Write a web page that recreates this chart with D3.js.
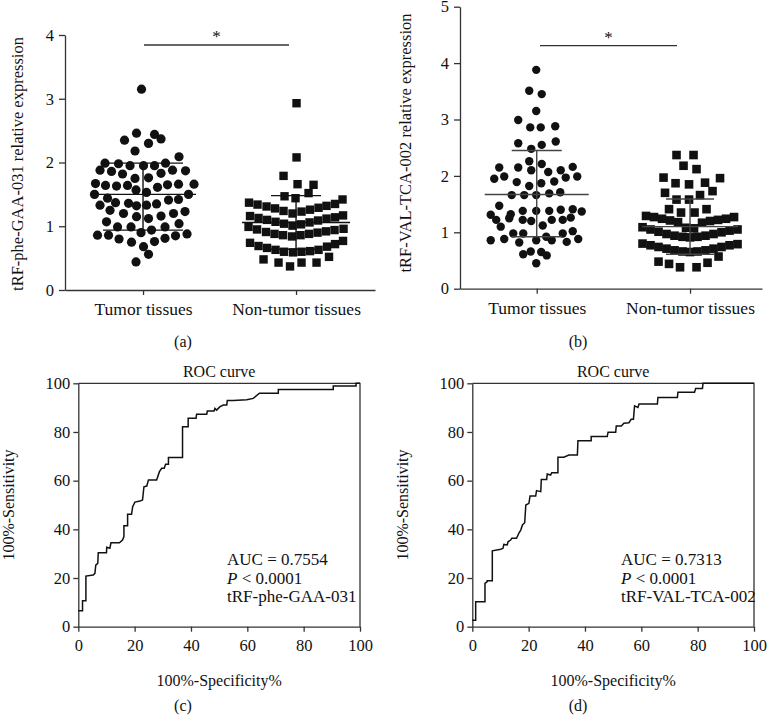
<!DOCTYPE html>
<html>
<head>
<meta charset="utf-8">
<script src="https://cdn.jsdelivr.net/npm/d3@7"></script>
<style>
  html, body { margin: 0; padding: 0; background: #fff; }
  svg { display: block; }
  text { font-family: "Liberation Serif", "Times New Roman", serif; fill: #111; }
</style>
</head>
<body>
<svg id="chart" width="768" height="722"></svg>
<script>
// ---------------- DATA ----------------
const categories = ["Tumor tissues", "Non-tumor tissues"];

// Panel (a): tRF-phe-GAA-031 ; points are [jitter offset (-1..1), value]
const tumorA = [
  [-0.03,3.15],[-0.37,2.35],[-0.13,2.46],[0.23,2.44],[0.36,2.37],[0.11,2.30],[-0.16,2.18],[0.72,2.09],
  [-0.76,1.99],[-0.49,1.98],[-0.26,1.95],[0.01,1.95],[0.23,1.95],[0.45,1.99],
  [-0.86,1.88],[-0.63,1.86],[-0.41,1.82],[-0.16,1.75],[0.11,1.76],[0.36,1.83],[0.59,1.88],[0.85,1.87],
  [-0.95,1.67],[-0.75,1.64],[-0.53,1.63],[-0.31,1.64],[-0.14,1.57],[0.29,1.61],[0.49,1.65],[0.71,1.66],[1.02,1.66],
  [-0.97,1.50],[-0.71,1.44],[0.07,1.53],[0.91,1.50],
  [-0.86,1.33],[-0.55,1.37],[-0.29,1.36],[-0.13,1.32],[0.07,1.33],[0.27,1.35],[0.51,1.41],[0.71,1.42],
  [-0.66,1.25],[-0.39,1.20],[-0.13,1.15],[0.11,1.12],[0.36,1.16],[0.61,1.20],[0.84,1.23],
  [-0.73,1.07],[-0.51,0.99],[-0.24,0.99],[-0.04,0.90],[0.17,0.94],[0.44,0.99],[0.72,1.04],
  [-0.91,0.86],[-0.69,0.86],[-0.48,0.80],[-0.23,0.75],[0.23,0.76],[0.44,0.81],[0.65,0.85],[0.88,0.88],
  [0.01,0.68],[0.11,0.56],[-0.14,0.44]
];
const nonTumorA = [
  [0.01,2.93],[0.01,2.08],[-0.25,1.79],[0.03,1.66],[0.35,1.65],[-0.23,1.47],[-0.01,1.44],[0.25,1.52],
  [-0.94,1.37],[-0.77,1.34],[-0.59,1.31],[-0.42,1.28],[-0.25,1.24],[-0.07,1.20],[0.11,1.23],[0.28,1.26],[0.45,1.29],[0.61,1.32],[0.78,1.35],[0.93,1.42],
  [-0.92,1.16],[-0.75,1.13],[-0.58,1.10],[-0.41,1.07],[-0.24,1.04],[-0.07,1.01],[0.10,1.03],[0.27,1.06],[0.44,1.09],[0.61,1.12],[0.78,1.14],[0.94,1.17],
  [-0.95,0.99],[-0.78,0.95],[-0.60,0.91],[-0.43,0.88],[-0.26,0.86],[-0.08,0.84],[0.09,0.86],[0.26,0.88],[0.43,0.90],[0.60,0.92],[0.77,0.94],[0.95,0.96],
  [-0.92,0.74],[-0.75,0.69],[-0.58,0.66],[-0.41,0.63],[-0.24,0.60],[-0.06,0.59],[0.11,0.60],[0.28,0.61],[0.45,0.63],[0.62,0.68],[0.78,0.72],[0.94,0.77],
  [-0.65,0.48],[-0.35,0.43],[-0.12,0.37],[0.11,0.43],[0.41,0.43],[0.66,0.52]
];
const meanA   = [1.50, 1.06];
const sdLowA  = [0.94, 0.64];
const sdHighA = [1.99, 1.48];

// Panel (b): tRF-VAL-TCA-002
const tumorB = [
  [-0.01,3.88],[-0.15,3.51],[0.10,3.45],[-0.01,3.15],[-0.37,2.99],[-0.13,2.86],[0.08,2.86],[0.37,2.88],
  [-0.37,2.58],[-0.11,2.48],[0.10,2.55],[0.38,2.61],[-0.15,2.26],[0.10,2.21],
  [-0.75,2.15],[-0.37,2.15],[0.48,2.10],[0.72,2.16],[-0.85,1.95],[-0.65,1.99],[-0.11,2.10],[0.23,2.07],[0.58,1.97],[0.81,1.99],
  [-0.40,1.89],[-0.15,1.82],[0.09,1.87],[0.35,1.90],[-0.50,1.66],[-0.25,1.66],[-0.01,1.66],[0.25,1.69],[0.47,1.71],
  [-0.75,1.47],[-0.92,1.31],[-0.81,1.22],[-0.52,1.32],[-0.55,1.25],[-0.28,1.38],[-0.28,1.22],[-0.01,1.38],[-0.11,1.20],
  [0.25,1.38],[0.30,1.22],[0.48,1.40],[0.52,1.22],[0.72,1.41],[0.68,1.26],[0.90,1.37],
  [-0.72,1.10],[0.12,1.12],
  [-0.92,0.86],[-0.65,0.88],[-0.47,0.98],[-0.27,0.98],[-0.35,0.82],[-0.01,0.86],[0.19,0.92],[0.30,0.86],[0.52,0.98],[0.72,1.02],[0.60,0.83],[0.83,0.88],
  [-0.27,0.61],[-0.12,0.66],[0.09,0.65],[0.20,0.59],[-0.01,0.45]
];
const nonTumorB = [
  [-0.27,2.37],[0.07,2.37],[-0.13,2.18],[0.13,2.12],[-0.53,1.97],[0.60,1.96],[-0.29,1.87],[-0.02,1.85],[0.30,1.88],
  [0.45,1.73],[-0.50,1.70],[-0.27,1.58],[-0.02,1.58],[0.20,1.66],[-0.42,1.41],[-0.18,1.35],[0.09,1.35],[0.33,1.41],
  [-0.88,1.29],[-0.72,1.27],[-0.56,1.24],[-0.40,1.21],[-0.24,1.18],[-0.08,1.08],[0.08,1.07],[0.24,1.17],[0.40,1.20],[0.56,1.22],[0.72,1.24],[0.88,1.27],
  [-0.95,1.09],[-0.79,1.05],[-0.63,1.01],[-0.47,0.97],[-0.31,0.94],[-0.15,0.92],[0.00,0.91],[0.15,0.92],[0.31,0.94],[0.47,0.97],[0.63,1.00],[0.79,1.03],[0.95,1.05],
  [-0.95,0.80],[-0.79,0.77],[-0.63,0.74],[-0.47,0.71],[-0.31,0.68],[-0.15,0.66],[0.00,0.65],[0.15,0.66],[0.31,0.68],[0.47,0.71],[0.63,0.74],[0.79,0.77],[0.95,0.79],
  [-0.63,0.48],[-0.42,0.44],[-0.20,0.38],[0.13,0.38],[0.35,0.46],[0.57,0.57]
];
const meanB   = [1.67, 1.10];
const sdLowB  = [0.92, 0.61];
const sdHighB = [2.45, 1.59];

const ticksA = [0,1,2,3,4];
const ticksB = [0,1,2,3,4,5];
const rocTicks = [0,20,40,60,80,100];

// ROC curves: [100%-Specificity%, Sensitivity%]
const rocC = [
  [0,6.6],[1.5,6.6],[1.5,10.7],[2.7,10.7],[2.7,20.8],[5.3,21.2],[5.9,21.9],[6.2,25.3],[6.9,26],[7.1,30.4],
  [10,30.4],[10.1,32.6],[11.2,32.2],[11.6,34.5],[14.6,34.5],[15.7,35.6],[16.2,37],[16.2,41.5],[17.5,41.5],
  [17.5,46.2],[18.9,46.2],[19.3,49.3],[20.1,51.2],[21.9,51.6],[22.8,52.1],[23.3,57.5],[24.3,57.8],[24.9,60.3],
  [27.8,60.3],[28.8,63.7],[29.6,65.1],[30.5,65.1],[31,66.7],[32,66.7],[32,69.5],[37,69.5],[37,82.2],[39,82.2],
  [39,85.6],[41.8,85.6],[42,87.3],[45.6,87.3],[45.8,88.6],[48.2,88.6],[48.5,89.7],[49.1,89],[50.3,90.4],
  [51.5,91.1],[52.7,91.1],[52.9,92.9],[55,92.9],[59.8,93.2],[62.1,93.8],[64.3,95.9],[71,95.9],[71,97.5],
  [90.5,97.5],[90.5,98.9],[98.6,98.9],[98.6,100],[100,100]
];
const rocD = [
  [0,2.7],[1.2,2.7],[1.2,10.3],[4.5,10.3],[4.5,17.8],[5.3,18.5],[5.3,18.9],[7.1,18.9],[7.1,31.2],[10.1,31.8],
  [10.9,32.2],[11.2,33.8],[12.4,33.6],[12.7,34.9],[13.6,35.6],[14,36.3],[15.7,36.3],[16.6,38.6],[17.2,39.7],
  [17.8,41.8],[18.6,42.7],[19,50],[20.1,50.7],[20.5,53.7],[22.5,53.7],[22.8,55.9],[24.3,55.5],[24.5,60.5],
  [26.4,60.5],[26.6,62.7],[27.8,62.3],[28.2,63.3],[30.4,63.3],[30.4,69.6],[32.5,69.6],[34.3,70.5],[37.3,70.5],
  [37.5,76.4],[42.2,76.4],[42.2,78.1],[47.9,78.1],[48.2,79.9],[50.9,79.9],[51.1,82.5],[52.9,82.5],[53.8,83.6],
  [55.6,83.8],[56.4,85.2],[57.2,85.2],[57.6,90.7],[58.8,90.1],[59.2,91.5],[65.7,91.5],[65.9,94.2],[72.8,94.2],
  [73,96.3],[78.9,96.3],[79.3,97.9],[81.7,97.9],[81.9,100],[100,100]
];

// ---------------- DRAWING ----------------
const svg = d3.select("#chart");
const INK = "#111";
const AXIS = "#333";

function scatterPanel(cfg) {
  const g = svg.append("g");
  const y = d3.scaleLinear().domain(cfg.yDomain).range(cfg.yRange);
  const x = d3.scalePoint().domain(categories).range(cfg.xRange).padding(cfg.pad).align(cfg.align);
  const j = d3.scaleLinear().domain([-1, 1]).range([-50, 50]);

  const ya = g.append("g").attr("transform", `translate(${cfg.xRange[0]},0)`)
    .call(d3.axisLeft(y).tickValues(cfg.ticks).tickFormat(d3.format("d")).tickSize(6).tickSizeOuter(0).tickPadding(5));
  ya.selectAll("text").style("font-size", "16.5px").style("font-family", "Liberation Serif");
  const xa = g.append("g").attr("transform", `translate(0,${cfg.yRange[0]})`)
    .call(d3.axisBottom(x).tickSize(5).tickSizeOuter(0).tickPadding(8));
  xa.selectAll("text").style("font-size", "17.5px").style("font-family", "Liberation Serif");
  g.selectAll(".domain, .tick line").attr("stroke", AXIS).attr("stroke-width", 1.3);
  g.selectAll(".tick text").attr("fill", INK);

  g.append("g").selectAll("circle").data(cfg.tumor).enter().append("circle")
    .attr("cx", d => x(categories[0]) + j(d[0]))
    .attr("cy", d => y(d[1]))
    .attr("r", cfg.r)
    .attr("fill", INK);
  g.append("g").selectAll("rect").data(cfg.nonTumor).enter().append("rect")
    .attr("x", d => x(categories[1]) + j(d[0]) - cfg.sq / 2)
    .attr("y", d => y(d[1]) - cfg.sq / 2)
    .attr("width", cfg.sq).attr("height", cfg.sq)
    .attr("fill", INK);

  const lines = g.append("g").attr("stroke", cfg.lineColor).attr("stroke-width", 1.4);
  categories.forEach((c, i) => {
    const cx = x(c);
    lines.append("line").attr("x1", cx - j(cfg.meanHW[i]) + j(0)).attr("x2", cx + j(cfg.meanHW[i]) - j(0))
      .attr("y1", y(cfg.mean[i])).attr("y2", y(cfg.mean[i]));
    [cfg.sdLow[i], cfg.sdHigh[i]].forEach(v => {
      lines.append("line").attr("x1", cx - j(cfg.sdHW[i]) + j(0)).attr("x2", cx + j(cfg.sdHW[i]) - j(0))
        .attr("y1", y(v)).attr("y2", y(v));
    });
    lines.append("line").attr("x1", cx).attr("x2", cx).attr("y1", y(cfg.sdLow[i])).attr("y2", y(cfg.sdHigh[i]));
  });

  g.append("line").attr("x1", cfg.sig[0]).attr("x2", cfg.sig[1]).attr("y1", cfg.sigY).attr("y2", cfg.sigY)
    .attr("stroke", AXIS).attr("stroke-width", 1.3);
  g.append("text").attr("x", (cfg.sig[0] + cfg.sig[1]) / 2).attr("y", cfg.sigY - 3)
    .attr("text-anchor", "middle").style("font-size", "17px").text("*");

  g.append("text").attr("transform", `translate(${cfg.titleX},${cfg.titleY}) rotate(-90)`)
    .attr("text-anchor", "middle").style("font-size", cfg.titleSize).text(cfg.title);
  g.append("text").attr("x", cfg.letterX).attr("y", 347).attr("text-anchor", "middle")
    .style("font-size", "16px").text(cfg.letter);
}

scatterPanel({
  yDomain: [0, 4], yRange: [290, 35], xRange: [65, 375], pad: 0.513, align: 0.497,
  ticks: ticksA, tumor: tumorA, nonTumor: nonTumorA, r: 4.6, sq: 8.4,
  mean: meanA, sdLow: sdLowA, sdHigh: sdHighA, meanHW: [1.06, 1.08], sdHW: [0.8, 0.5],
  lineColor: "#111", sig: [144, 289], sigY: 45,
  title: "tRF-phe-GAA-031 relative expression", titleX: 23, titleY: 164, titleSize: "16.5px",
  letter: "(a)", letterX: 183
});
scatterPanel({
  yDomain: [0, 5], yRange: [288.7, 6.7], xRange: [460, 762], pad: 0.485, align: 0.516,
  ticks: ticksB, tumor: tumorB, nonTumor: nonTumorB, r: 4.2, sq: 8.6,
  mean: meanB, sdLow: sdLowB, sdHigh: sdHighB, meanHW: [1.04, 0.96], sdHW: [0.5, 0.48],
  lineColor: "#444", sig: [540, 677], sigY: 45.7,
  title: "tRF-VAL-TCA-002 relative expression", titleX: 411, titleY: 143, titleSize: "16.5px",
  letter: "(b)", letterX: 578
});

function rocPanel(cfg) {
  const g = svg.append("g");
  const x = d3.scaleLinear().domain([0, 100]).range(cfg.xRange);
  const y = d3.scaleLinear().domain([0, 100]).range([626.7, 383.3]);

  g.append("g").attr("transform", `translate(${cfg.xRange[0]},0)`)
    .call(d3.axisLeft(y).tickValues(rocTicks).tickSize(5).tickSizeOuter(0).tickPadding(3));
  g.append("g").attr("transform", `translate(0,${y(0)})`)
    .call(d3.axisBottom(x).tickValues(rocTicks).tickSize(5).tickSizeOuter(0).tickPadding(8));
  g.selectAll(".tick text").style("font-size", "16.5px").style("font-family", "Liberation Serif").attr("fill", INK);
  g.selectAll(".domain, .tick line").attr("stroke", AXIS).attr("stroke-width", 1.3);
  g.append("path")
    .attr("d", `M${x(0)},${y(100)}H${x(100)}V${y(0)}`)
    .attr("fill", "none").attr("stroke", AXIS).attr("stroke-width", 1.3);

  g.append("path").datum(cfg.data)
    .attr("d", d3.line().x(d => x(d[0])).y(d => y(d[1])))
    .attr("fill", "none").attr("stroke", INK).attr("stroke-width", 1.5);

  const cx = (cfg.xRange[0] + cfg.xRange[1]) / 2;
  g.append("text").attr("x", cx).attr("y", 377).attr("text-anchor", "middle").style("font-size", "16px").text("ROC curve");
  g.append("text").attr("x", cx).attr("y", 686).attr("text-anchor", "middle").style("font-size", "16px").text("100%-Specificity%");
  g.append("text").attr("transform", `translate(${cfg.titleX},${(y(0) + y(100)) / 2}) rotate(-90)`)
    .attr("text-anchor", "middle").style("font-size", "16px").text("100%-Sensitivity");
  g.append("text").attr("x", cfg.letterX).attr("y", 711).attr("text-anchor", "middle").style("font-size", "16px").text(cfg.letter);

  const ann = g.append("g").style("font-size", "17px");
  ann.append("text").attr("x", cfg.annX).attr("y", 565).text(cfg.auc);
  const p = ann.append("text").attr("x", cfg.annX).attr("y", 584);
  p.append("tspan").style("font-style", "italic").text("P");
  p.append("tspan").text(" < 0.0001");
  ann.append("text").attr("x", cfg.annX).attr("y", 602).text(cfg.name);
}

rocPanel({ xRange: [78.3, 360], data: rocC, titleX: 14, letter: "(c)", letterX: 183,
  annX: 227, auc: "AUC = 0.7554", name: "tRF-phe-GAA-031" });
rocPanel({ xRange: [472.3, 754], data: rocD, titleX: 408, letter: "(d)", letterX: 578,
  annX: 621, auc: "AUC = 0.7313", name: "tRF-VAL-TCA-002" });
</script>
</body>
</html>
